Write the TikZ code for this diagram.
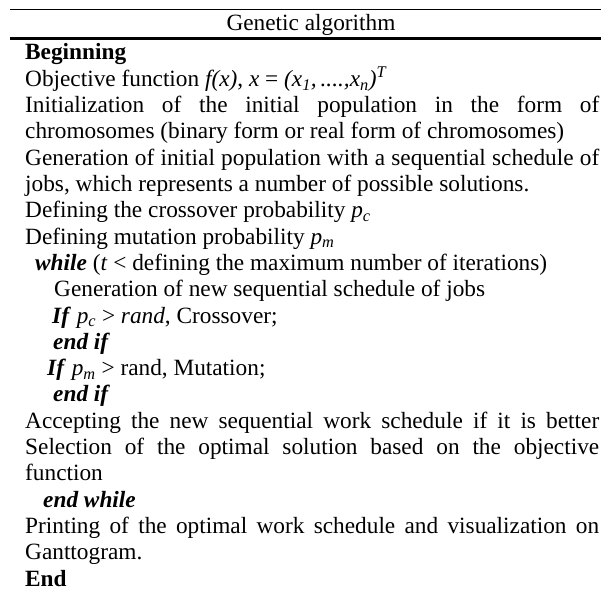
\documentclass[tikz,border=0pt]{standalone}
\usepackage{fontspec}
\setmainfont{Liberation Serif}
\usetikzlibrary{positioning}

\tikzset{
  row/.style={anchor=base west, inner sep=0pt, font=\fontsize{23.3}{26}\selectfont},
  rule/.style={line width=1.8pt}
}
\newcommand{\just}[1]{\makebox[574pt][s]{#1}}

\begin{document}
\begin{tikzpicture}[x=1pt,y=-1pt]
\useasboundingbox (0,0) rectangle (601,604);

\draw[rule] (10,9.5) -- (601,9.5);
\draw[rule,line width=2.2pt] (10,38.5) -- (601,38.5);

\node[row,anchor=base] (0) at (311,31) {Genetic algorithm};
\node[row] (1) at (25,60) {\textbf{Beginning}};
\node[row] (2) at (25,86.3) {Objective function \textit{f(x)}, \textit{x} = \textit{(x\textsubscript{1},\,....,x\textsubscript{n})}\textsuperscript{\textit{T}}};
\node[row] (3) at (25,112.6) {\just{Initialization of the initial population in the form of}};
\node[row] (4) at (25,138.9) {chromosomes (binary form or real form of chromosomes)};
\node[row] (5) at (25,165.2) {\just{Generation of initial population with a sequential schedule of}};
\node[row] (6) at (25,191.5) {jobs, which represents a number of possible solutions.};
\node[row] (7) at (25,217.8) {Defining the crossover probability \textit{p\textsubscript{c}}};
\node[row] (8) at (25,244.1) {Defining mutation probability \textit{p\textsubscript{m}}};
\node[row] (9) at (35,270.4) {\textbf{\textit{while}} (\textit{t} < defining the maximum number of iterations)};
\node[row] (10) at (54,296.7) {Generation of new sequential schedule of jobs};
\node[row] (11) at (52,323) {\textbf{\textit{If}} \textit{p\textsubscript{c}} > \textit{rand}, Crossover;};
\node[row] (12) at (53,349.3) {\textbf{\textit{end if}}};
\node[row] (13) at (47,375.6) {\textbf{\textit{If}} \textit{p\textsubscript{m}} > rand, Mutation;};
\node[row] (14) at (53,401.9) {\textbf{\textit{end if}}};
\node[row] (15) at (25,428.2) {\just{Accepting the new sequential work schedule if it is better}};
\node[row] (16) at (25,454.5) {\just{Selection of the optimal solution based on the objective}};
\node[row] (17) at (25,480.8) {function};
\node[row] (18) at (43,507.1) {\textbf{\textit{end while}}};
\node[row] (19) at (25,533.4) {\just{Printing of the optimal work schedule and visualization on}};
\node[row] (20) at (25,559.7) {Ganttogram.};
\node[row] (21) at (25,586) {\textbf{End}};
\end{tikzpicture}
\end{document}
